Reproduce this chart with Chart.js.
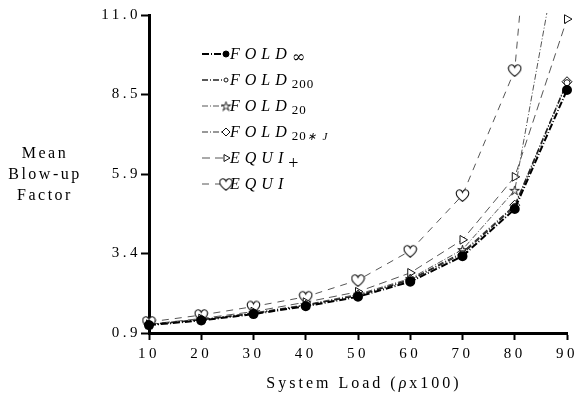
<!DOCTYPE html>
<html><head><meta charset="utf-8">
<script src="https://cdn.jsdelivr.net/npm/chart.js@4/dist/chart.umd.min.js"></script>
<style>html,body{margin:0;padding:0;background:#fff}#wrap{width:583px;height:393px}</style>
</head><body><div id="wrap"><canvas id="c" width="583" height="393"></canvas></div>
<script>
const loads = ['10','20','30','40','50','60','70','80','90'];
const foldInf  = [1.15,1.30,1.50,1.75,2.05,2.53,3.34,4.84,8.62];
const fold200  = [1.17,1.32,1.52,1.78,2.09,2.58,3.42,4.92,8.85];
const fold20   = [1.17,1.33,1.54,1.80,2.13,2.63,3.55,5.43,14.6];
const fold20J  = [1.16,1.32,1.52,1.78,2.10,2.60,3.46,4.96,8.88];
const equiPlus = [1.18,1.36,1.58,1.88,2.21,2.81,3.86,5.86,10.87];
const equi     = [1.25,1.47,1.74,2.05,2.58,3.51,5.28,9.25,28];
const yTicks = [0.9,3.425,5.95,8.475,11.0];
const yTickLabels = ['0.9','3.4','5.9','8.5','11.0'];
const seriesNames = ['FOLD','FOLD','FOLD','FOLD','EQUI','EQUI'];
const seriesSubs = ['\u221E','200','20','20\u2217J','+',''];
const yTitle = ['Mean','Blow-up','Factor'];
const xTitle = 'System Load (';
const xTitleRho = '\u03C1';
const xTitleEnd = 'x100)';

function mk(w,h,fn){const c=document.createElement('canvas');c.width=w;c.height=h;const g=c.getContext('2d');fn(g);return c;}
const heart = mk(15,14,g=>{g.beginPath();g.moveTo(7.5,13.2);g.bezierCurveTo(1.5,8.8,0.6,5.2,1.8,3.2);g.bezierCurveTo(3.2,1.0,6.4,1.3,7.5,4.2);g.bezierCurveTo(8.6,1.3,11.8,1.0,13.2,3.2);g.bezierCurveTo(14.4,5.2,13.5,8.8,7.5,13.2);g.closePath();g.fillStyle='#fff';g.fill();g.lineWidth=1.1;g.strokeStyle='#111';g.stroke();});
const star = mk(11,11,g=>{g.beginPath();for(let i=0;i<10;i++){const r=i%2?1.6:5;const a=-Math.PI/2+i*Math.PI/5;g.lineTo(5.5+r*Math.cos(a),6+r*Math.sin(a));}g.closePath();g.fillStyle='#fff';g.fill();g.lineWidth=1;g.strokeStyle='#222';g.stroke();});

const dsets = [
 {data:foldInf, borderColor:'#000', borderWidth:2, borderDash:[7,2,1,2], pointStyle:'circle', pointRadius:4, backgroundColor:'#000', pointBorderColor:'#000', pointBackgroundColor:'#000'},
 {data:fold200, borderColor:'#222', borderWidth:1.3, borderDash:[6,2,1,2], pointStyle:'circle', pointRadius:3, pointBorderColor:'#111', pointBackgroundColor:'#fff', pointBorderWidth:1},
 {data:fold20, borderColor:'#555', borderWidth:1, borderDash:[6,2,1,2], pointStyle:star, pointRadius:5},
 {data:fold20J, borderColor:'#333', borderWidth:1.2, borderDash:[6,2,1,2], pointStyle:'rectRot', pointRadius:5, pointBorderColor:'#111', pointBackgroundColor:'#fff', pointBorderWidth:1},
 {data:equiPlus, borderColor:'#555', borderWidth:1, borderDash:[8,5], pointStyle:'triangle', pointRotation:90, pointRadius:5, pointBorderColor:'#111', pointBackgroundColor:'#fff', pointBorderWidth:1},
 {data:equi, borderColor:'#555', borderWidth:1, borderDash:[7,6], pointStyle:heart, pointRadius:7}
];
dsets.forEach(d=>{d.fill=false;d.tension=0;d.clip={left:10,right:10,top:2,bottom:10};});

const textPlugin = {
 id:'txt',
 beforeUpdate(ch){ch.ctx.letterSpacing='3.5px';},
 beforeDraw(ch){ch.ctx.letterSpacing='3.5px';},
 afterDraw(ch){
  const g=ch.ctx; g.save();
  g.fillStyle='#000'; g.letterSpacing='2.5px'; g.font='16px "Liberation Serif"'; g.textAlign='center'; g.textBaseline='alphabetic';
  yTitle.forEach((t,i)=>g.fillText(t,45,158+i*21));
  g.letterSpacing='3px'; g.textAlign='left';
  g.font='16px "Liberation Serif"';
  const w1=g.measureText(xTitle).width; g.font='italic 16px "Liberation Serif"'; const w2=g.measureText(xTitleRho).width;
  g.font='16px "Liberation Serif"'; const w3=g.measureText(xTitleEnd).width;
  let x=364-(w1+w2+w3)/2; const yb=388;
  g.fillText(xTitle,x,yb); x+=w1; g.font='italic 16px "Liberation Serif"'; g.fillText(xTitleRho,x,yb); x+=w2; g.font='16px "Liberation Serif"'; g.fillText(xTitleEnd,x,yb);
  dsets.forEach((d,i)=>{
   const yb=59+i*26, yl=yb-5;
   g.save(); g.strokeStyle=d.borderColor; g.lineWidth=d.borderWidth; g.setLineDash(d.borderDash);
   g.beginPath(); g.moveTo(202,yl); g.lineTo(224,yl); g.stroke(); g.restore();
   g.save();
   g.fillStyle=d.pointBackgroundColor||'#fff'; g.strokeStyle=d.pointBorderColor||'#222'; g.lineWidth=d.pointBorderWidth||1;
   Chart.helpers.drawPoint(g,{pointStyle:d.pointStyle,rotation:d.pointRotation||0,radius:d.pointRadius-1,borderWidth:d.pointBorderWidth||1},226,yl);
   g.restore();
   g.letterSpacing='5px'; g.font='italic 16px "Liberation Serif"'; g.textAlign='left'; g.fillStyle='#000';
   g.fillText(seriesNames[i],230,yb);
   const wn=g.measureText(seriesNames[i]).width;
   if(seriesSubs[i]){
    const s=seriesSubs[i];
    if(s==='+'){g.letterSpacing='0px';g.font='18px "Liberation Serif"';g.fillText(s,230+wn,yb+6);}
    else if(s==='\u221E'){g.letterSpacing='0px';g.font='16px "DejaVu Serif"';g.fillText(s,230+wn,yb+3);}
    else {g.letterSpacing='1px';g.font='13px "Liberation Serif"';
      const m=s.match(/^(\d+)(.*)$/); g.fillText(m[1],230+wn,yb+3);
      if(m[2]){const ww=g.measureText(m[1]).width; g.font='italic 11px "Liberation Serif"'; g.letterSpacing='2px'; g.fillText(m[2].replace('J',' J'),230+wn+ww,yb+3);} }
   }
  });
  g.restore();
 }
};

new Chart(document.getElementById('c'),{
 type:'line',
 data:{labels:loads,datasets:dsets},
 options:{
  responsive:false, animation:false, devicePixelRatio:1,
  layout:{padding:{left:0,right:9,top:15,bottom:0}},
  plugins:{legend:{display:false},tooltip:{enabled:false}},
  scales:{
   x:{offset:false, grid:{display:true,drawOnChartArea:false,drawTicks:true,tickLength:7,tickWidth:2,color:'#000'},
      border:{display:true,width:3,color:'#000'},
      ticks:{color:'#000',font:{family:'Liberation Serif',size:15},padding:5,maxRotation:0,autoSkip:false},
      afterFit(s){s.height=60;}},
   y:{min:0.9,max:11.0,
      afterBuildTicks(s){s.ticks=yTicks.map(v=>({value:v}));},
      grid:{display:true,drawOnChartArea:false,drawTicks:true,tickLength:8,tickWidth:2,color:'#000'},
      border:{display:true,width:3,color:'#000'},
      ticks:{color:'#000',font:{family:'Liberation Serif',size:15},padding:0,callback:(v,i)=>yTickLabels[i]},
      afterFit(s){s.width=149;}}
  }
 },
 plugins:[textPlugin]
});
</script></body></html>
